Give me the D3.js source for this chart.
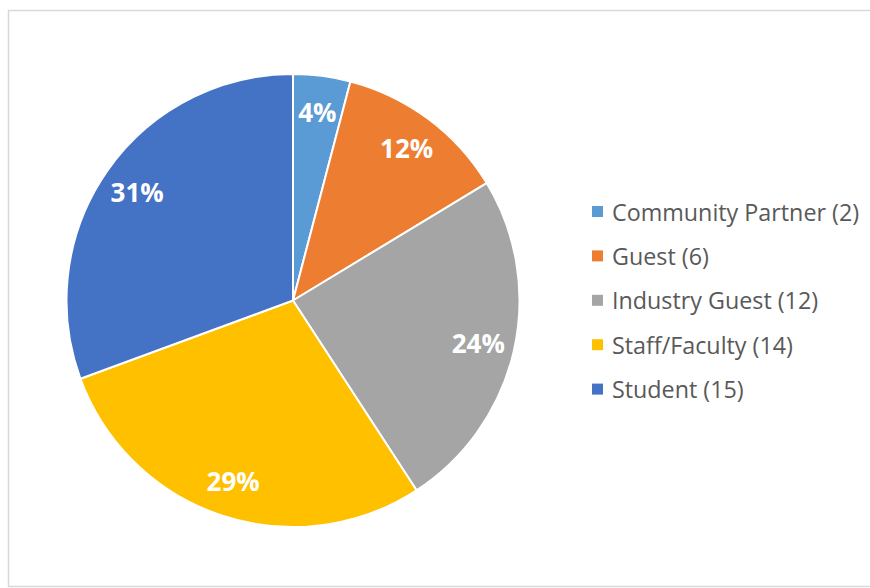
<!DOCTYPE html>
<html>
<head>
<meta charset="utf-8">
<script src="https://cdn.jsdelivr.net/npm/d3@7"></script>
<style>
  html, body { margin: 0; padding: 0; background: #fff; }
  svg { display: block; }
</style>
</head>
<body>
<svg id="chart" width="870" height="588"></svg>
<script>
const categories = ["Community Partner", "Guest", "Industry Guest", "Staff/Faculty", "Student"];
const counts = [2, 6, 12, 14, 15];
const colors = ["#5B9BD5", "#ED7D31", "#A5A5A5", "#FFC000", "#4472C4"];

const svg = d3.select("#chart");

// chart border
svg.append("rect")
  .attr("x", 8.5).attr("y", 10.5)
  .attr("width", 880).attr("height", 576)
  .attr("fill", "#fff")
  .attr("stroke", "#d9d9d9")
  .attr("stroke-width", 1.5);

const cx = 293, cy = 300.5, R = 226.5;
const total = d3.sum(counts);

const pie = d3.pie().sort(null).value(d => d)(counts);
const arc = d3.arc().innerRadius(0).outerRadius(R);
const labelArc = d3.arc().innerRadius(190).outerRadius(190);

const g = svg.append("g").attr("transform", `translate(${cx},${cy})`);

g.selectAll("path.slice")
  .data(pie)
  .join("path")
  .attr("class", "slice")
  .attr("d", arc)
  .attr("fill", (d, i) => colors[i])
  .attr("stroke", "#fff")
  .attr("stroke-width", 2)
  .attr("stroke-linejoin", "round");

g.selectAll("text.lbl")
  .data(pie)
  .join("text")
  .attr("class", "lbl")
  .attr("transform", d => `translate(${labelArc.centroid(d)})`)
  .attr("text-anchor", "middle")
  .attr("dominant-baseline", "central")
  .attr("fill", "#fff")
  .attr("font-family", "'Open Sans', 'Noto Sans', sans-serif")
  .attr("font-weight", "bold")
  .attr("font-size", 26)
  .text(d => Math.round(d.value / total * 100) + "%");

// legend
const legend = svg.append("g").attr("transform", "translate(592,211.5)");
const item = legend.selectAll("g.item")
  .data(categories)
  .join("g")
  .attr("class", "item")
  .attr("transform", (d, i) => `translate(0,${i * 44.4})`);

item.append("rect")
  .attr("x", 0).attr("y", -5.5)
  .attr("width", 11).attr("height", 11)
  .attr("fill", (d, i) => colors[i]);

item.append("text")
  .attr("x", 20).attr("y", 0)
  .attr("dominant-baseline", "central")
  .attr("fill", "#595959")
  .attr("font-family", "'Open Sans', 'Noto Sans', sans-serif")
  .attr("font-size", 23.3)
  .text((d, i) => `${d} (${counts[i]})`);
</script>
</body>
</html>
